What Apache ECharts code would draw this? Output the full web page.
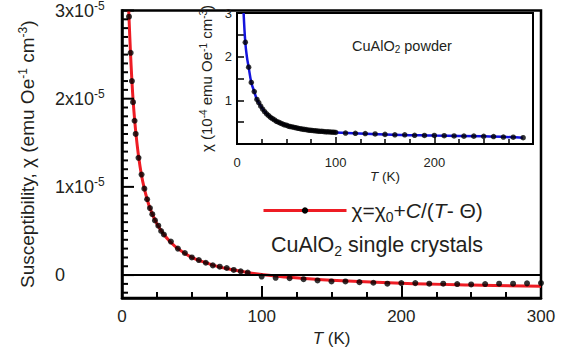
<!DOCTYPE html>
<html><head><meta charset="utf-8">
<script src="https://cdn.jsdelivr.net/npm/echarts@6/dist/echarts.min.js"></script>
<style>html,body{margin:0;padding:0;background:#fff}#c{width:574px;height:358px}</style>
</head><body><div id="c"></div>
<script>
// Single crystals: T (K) and susceptibility (units of 1e-5 emu Oe^-1 cm^-3)
const crystalT = [5, 6.2, 7.1, 7.9, 9, 9.8, 11.8, 14, 16, 18, 20, 21.7, 23.6, 26, 28, 30, 35, 40, 45, 50, 55, 60, 65, 70, 75, 80, 85, 90, 100, 110, 120, 130, 140, 150, 160, 170, 180, 190, 200, 210, 220, 230, 240, 250, 260, 270, 280, 290, 300];
const crystalChi = [2.93, 2.52, 2.20, 1.96, 1.75, 1.60, 1.33, 1.14, 0.98, 0.86, 0.76, 0.69, 0.62, 0.56, 0.50, 0.46, 0.38, 0.30, 0.25, 0.20, 0.17, 0.14, 0.11, 0.095, 0.08, 0.058, 0.042, 0.028, -0.017, -0.031, -0.036, -0.047, -0.061, -0.072, -0.072, -0.08, -0.087, -0.098, -0.091, -0.091, -0.098, -0.098, -0.102, -0.106, -0.102, -0.098, -0.098, -0.094, -0.091];
// Fit curve (red line)
const crystalFitT = [4.8, 6, 7, 8, 9, 10, 12, 14, 16, 18, 20, 25, 30, 35, 40, 50, 60, 70, 80, 90, 100, 120, 150, 200, 250, 300];
const crystalFitChi = [3.0, 2.55, 2.23, 1.97, 1.77, 1.60, 1.33, 1.13, 0.98, 0.86, 0.76, 0.58, 0.46, 0.37, 0.30, 0.20, 0.14, 0.09, 0.057, 0.029, 0.007, -0.026, -0.06, -0.094, -0.114, -0.128];
// Powder (inset): units of 1e-4
const powderT = [8.4, 11.8, 14.5, 17.5, 20.2, 22, 24, 26, 28, 30, 32, 34, 36, 38, 40, 42, 44, 46, 48, 50, 52, 54, 56, 58, 60, 62, 64, 66, 68, 70, 72, 74, 76, 78, 80, 82, 84, 86, 88, 90, 92, 94, 96, 98, 100, 110, 120, 130, 140, 150, 160, 170, 180, 190, 200, 210, 220, 230, 240, 250, 260, 270, 280, 290];
const powderChi = [2.33, 1.76, 1.41, 1.20, 1.02, 0.95, 0.87, 0.80, 0.74, 0.69, 0.65, 0.61, 0.58, 0.55, 0.52, 0.50, 0.48, 0.46, 0.44, 0.43, 0.41, 0.40, 0.39, 0.38, 0.37, 0.36, 0.35, 0.34, 0.335, 0.33, 0.32, 0.315, 0.31, 0.305, 0.30, 0.295, 0.29, 0.29, 0.285, 0.28, 0.28, 0.275, 0.27, 0.27, 0.265, 0.25, 0.245, 0.24, 0.23, 0.22, 0.21, 0.21, 0.20, 0.195, 0.195, 0.19, 0.185, 0.18, 0.18, 0.175, 0.17, 0.16, 0.155, 0.145];
const powderFitT = [6.7, 8.4, 10, 11.8, 14.5, 17.5, 20.2, 25, 30, 40, 50, 60, 70, 80, 100, 150, 200, 250, 290];
const powderFitChi = [3.0, 2.33, 2.0, 1.76, 1.41, 1.20, 1.02, 0.84, 0.69, 0.52, 0.43, 0.37, 0.33, 0.30, 0.265, 0.22, 0.195, 0.175, 0.145];

const mainYTickValues = [0, 1, 2, 3];
const mainYTickLabels = ['0', '1x10{s|-5}', '2x10{s|-5}', '3x10{s|-5}'];
const mainYMin = -0.26, mainYMax = 3;   // axis range (1e-5 units)
// y-axis tick marks: [value, isMajor]
const mainYTickMarks = [];
for (let k = -2; k <= 30; k++) mainYTickMarks.push([k / 10, k % 10 === 0 ? 1 : 0]);

const pairs = (xs, ys) => xs.map((x, i) => [x, ys[i]]);
const FONT = 'Liberation Sans, Arial, Helvetica, sans-serif';
const TXT = '#231f20';

const chart = echarts.init(document.getElementById('c'), null, { renderer: 'svg' });
chart.setOption({
  animation: false,
  backgroundColor: '#fff',
  textStyle: { fontFamily: FONT, color: TXT },
  grid: [
    { left: 122, top: 6, width: 419, height: 292, show: true, borderColor: '#000', borderWidth: 2.5 },
    { left: 237, top: 13, width: 296, height: 131, show: true, borderColor: '#000', borderWidth: 2, backgroundColor: '#fff' }
  ],
  title: [
    { text: 'CuAlO{sub|2} single crystals', left: 266, top: 227,
      textStyle: { fontFamily: FONT, fontSize: 21.5, fontWeight: 'normal', color: TXT,
        rich: { sub: { fontFamily: FONT, fontSize: 14, verticalAlign: 'bottom', padding: [12, 0, 0, 0], color: TXT } } } },
    { text: 'CuAlO{sub|2} powder', left: 347, top: 32,
      textStyle: { fontFamily: FONT, fontSize: 14.5, fontWeight: 'normal', color: TXT,
        rich: { sub: { fontFamily: FONT, fontSize: 10, verticalAlign: 'bottom', padding: [7, 0, 0, 0], color: TXT } } } }
  ],
  legend: {
    left: 257, top: 195, itemWidth: 83, itemHeight: 8, itemGap: 8,
    data: [{ name: 'fit', itemStyle: { color: '#000' }, lineStyle: { color: '#ee1c24', width: 3 } }],
    formatter: () => 'χ={n|χ}{sub|0}+{i|C}/({i|T}- Θ)',
    textStyle: { fontFamily: FONT, fontSize: 21, color: TXT,
      rich: {
        n: { fontFamily: FONT, fontSize: 21, color: TXT },
        i: { fontFamily: FONT, fontSize: 21, fontStyle: 'italic', color: TXT },
        sub: { fontFamily: FONT, fontSize: 14, verticalAlign: 'bottom', padding: [12, 0, 0, 0], color: TXT }
      } }
  },
  xAxis: [
    { gridIndex: 0, type: 'value', min: 0, max: 300, interval: 100,
      name: '{i|T} (K)', nameLocation: 'middle', nameGap: 31,
      nameTextStyle: { fontFamily: FONT, fontSize: 17, color: TXT, rich: { i: { fontFamily: FONT, fontSize: 17, fontStyle: 'italic', color: TXT } } },
      axisLine: { show: true, onZero: false, lineStyle: { color: '#000', width: 2.5 } },
      axisTick: { inside: true, length: 12, lineStyle: { color: '#000', width: 2 } },
      minorTick: { show: true, splitNumber: 4, length: 6, lineStyle: { color: '#000', width: 2 } },
      splitLine: { show: false },
      axisLabel: { fontFamily: FONT, fontSize: 17, color: TXT, margin: 10 } },
    { gridIndex: 1, type: 'value', min: 0, max: 300, interval: 100,
      name: '{i|T} (K)', nameLocation: 'middle', nameGap: 23,
      nameTextStyle: { fontFamily: FONT, fontSize: 13.5, color: TXT, rich: { i: { fontFamily: FONT, fontSize: 13.5, fontStyle: 'italic', color: TXT } } },
      axisLine: { show: true, lineStyle: { color: '#000', width: 2 } },
      axisTick: { inside: true, length: 7, lineStyle: { color: '#000', width: 1.5 } },
      minorTick: { show: true, splitNumber: 4, length: 5, lineStyle: { color: '#000', width: 1.5 } },
      splitLine: { show: false },
      axisLabel: { fontFamily: FONT, fontSize: 13, color: TXT, margin: 12, showMaxLabel: false } }
  ],
  yAxis: [
    { gridIndex: 0, type: 'value', min: mainYMin, max: mainYMax,
      name: 'Susceptibility, χ (emu Oe{sup|-1} cm{sup|-3})', nameLocation: 'middle', nameGap: 85,
      nameTextStyle: { fontFamily: FONT, fontSize: 19, color: TXT, rich: { sup: { fontFamily: FONT, fontSize: 12, verticalAlign: 'top', padding: [0, 0, 8, 0], color: TXT } } },
      axisLine: { show: true, lineStyle: { color: '#000', width: 2.5 } },
      axisTick: { show: false }, splitLine: { show: false },
      axisLabel: { show: true, customValues: mainYTickValues, margin: 67, align: 'left', fontFamily: FONT, fontSize: 18, color: TXT,
        formatter: v => mainYTickLabels[mainYTickValues.indexOf(Math.round(v))] || '',
        rich: { s: { fontFamily: FONT, fontSize: 12, verticalAlign: 'top', padding: [0, 0, 9, 0], color: TXT } } } },
    { gridIndex: 1, type: 'value', min: 0, max: 3, interval: 1,
      name: 'χ (10{sup|-4} emu Oe{sup|-1} cm{sup|-3})', nameLocation: 'middle', nameGap: 21,
      nameTextStyle: { fontFamily: FONT, fontSize: 15, color: TXT, rich: { sup: { fontFamily: FONT, fontSize: 10, verticalAlign: 'top', padding: [0, 0, 6, 0], color: TXT } } },
      axisLine: { show: true, lineStyle: { color: '#000', width: 2 } },
      axisTick: { inside: true, length: 7, lineStyle: { color: '#000', width: 1.5 } },
      minorTick: { show: true, splitNumber: 2, length: 7, lineStyle: { color: '#000', width: 1.5 } },
      splitLine: { show: false },
      axisLabel: { fontFamily: FONT, fontSize: 13, color: TXT, margin: 5, showMinLabel: false } }
  ],
  series: [
    { name: 'fit', type: 'line', xAxisIndex: 0, yAxisIndex: 0, data: pairs(crystalFitT, crystalFitChi),
      smooth: 0.4, symbol: 'circle', showSymbol: false, itemStyle: { color: '#000' },
      lineStyle: { color: '#ee1c24', width: 3 }, z: 2, silent: true,
      markLine: { silent: true, symbol: 'none', label: { show: false }, lineStyle: { color: '#000', width: 2, type: 'solid' },
        data: [{ yAxis: 0 }] } },
    { name: 'crystal', type: 'scatter', xAxisIndex: 0, yAxisIndex: 0, data: pairs(crystalT, crystalChi),
      symbol: 'circle', symbolSize: 6, itemStyle: { color: '#000' }, z: 3 },
    { name: 'yTicks', type: 'custom', xAxisIndex: 0, yAxisIndex: 0, silent: true, z: 6,
      data: mainYTickMarks.map(m => [0, m[0], m[1]]),
      encode: { x: 0, y: 1 },
      renderItem: (params, api) => {
        const p = api.coord([0, api.value(1)]);
        const len = api.value(2) ? 12 : 6;
        return { type: 'line', shape: { x1: p[0], y1: p[1], x2: p[0] + len, y2: p[1] },
          style: { stroke: '#000', lineWidth: 2 } };
      } },
    { name: 'powderFit', type: 'line', xAxisIndex: 1, yAxisIndex: 1, data: pairs(powderFitT, powderFitChi),
      smooth: 0.4, showSymbol: false, lineStyle: { color: '#1414dc', width: 2.5 }, z: 4, clip: true },
    { name: 'powder', type: 'scatter', xAxisIndex: 1, yAxisIndex: 1, data: pairs(powderT, powderChi),
      symbol: 'circle', symbolSize: 5.5, itemStyle: { color: '#000' }, z: 5 }
  ]
});
</script></body></html>
